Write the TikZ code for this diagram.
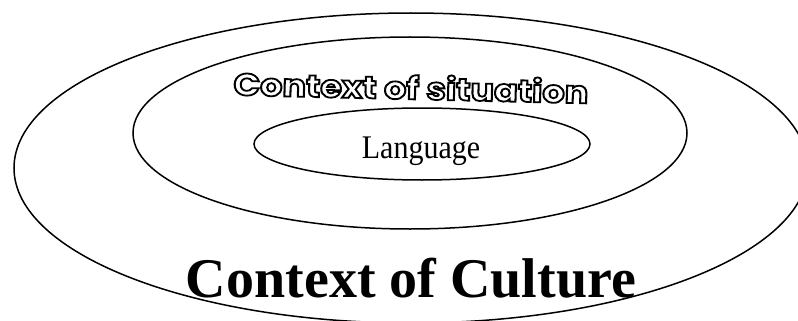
\documentclass[tikz,border=0pt]{standalone}
\usepackage{fontspec}
\setmainfont{Liberation Serif}
\newfontfamily\roundfont{Poppins}
\newcommand{\hollowtext}[1]{\special{pdf:literal direct 1 Tr 1.8 w}#1\special{pdf:literal direct 0 Tr}}
\tikzset{
  ring/.style={draw=black, line width=1.5pt},
  langtext/.style={font=\fontsize{30}{36}\selectfont, anchor=base, yscale=1.1},
  sittext/.style={black, font=\roundfont\bfseries\fontsize{31}{36}\selectfont, xscale=1.13},
  culttext/.style={black, font=\bfseries\fontsize{56}{64}\selectfont, anchor=base}
}
\begin{document}
\begin{tikzpicture}[x=1pt,y=-1pt]
  \useasboundingbox (0,0) rectangle (798,321);
  \clip (0,0) rectangle (798,321);
  \coordinate (O) at (411,168);
  \coordinate (M) at (410,133);
  \coordinate (I) at (422,144);
  \draw[ring] (O) ellipse [x radius=397pt, y radius=155pt];
  \draw[ring] (M) ellipse [x radius=277pt, y radius=96pt];
  \draw[ring] (I) ellipse [x radius=168pt, y radius=36pt];
  \node[langtext] (lang) at (421,158) {Language};
  \node[sittext, rotate=-1.5] (sit) at (411,87) {\hollowtext{Context of situation}};
  \node[culttext] (cult) at (411,297) {Context of Culture};
\end{tikzpicture}
\end{document}
